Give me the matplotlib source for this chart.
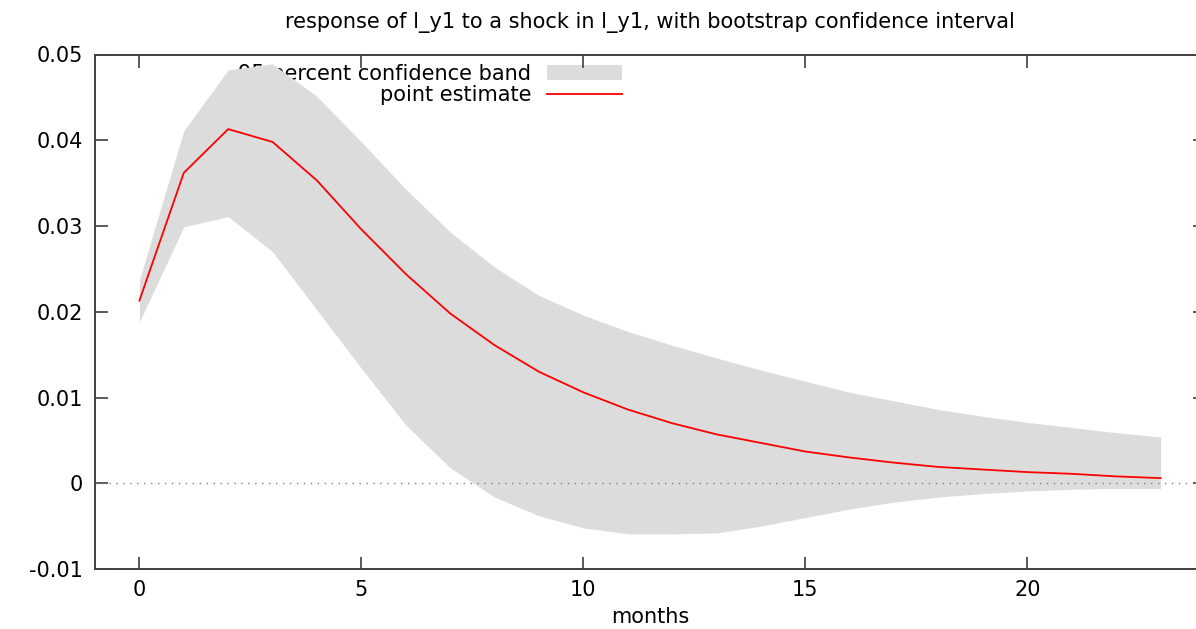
import matplotlib
matplotlib.use('Agg')
import matplotlib.pyplot as plt

# impulse response
months = list(range(24))
point_est = [0.0213, 0.0362, 0.0413, 0.0398, 0.0353, 0.0296, 0.0244, 0.0198,
             0.0161, 0.0130, 0.0106, 0.0086, 0.0070, 0.0057, 0.0047, 0.0037,
             0.0030, 0.0024, 0.0019, 0.0016, 0.0013, 0.0011, 0.0008, 0.0006]
band_hi = [0.0237, 0.0411, 0.0482, 0.0489, 0.0451, 0.0398, 0.0343, 0.0293,
           0.0252, 0.0219, 0.0196, 0.0177, 0.0161, 0.0146, 0.0132, 0.0119,
           0.0106, 0.0096, 0.0086, 0.0078, 0.0071, 0.0065, 0.0059, 0.0054]
band_lo = [0.0188, 0.0299, 0.0311, 0.0270, 0.0202, 0.0134, 0.0068, 0.0018,
           -0.0016, -0.0038, -0.0052, -0.0059, -0.0059, -0.0058, -0.0050, -0.0040,
           -0.0030, -0.0022, -0.0016, -0.0012, -0.0009, -0.0007, -0.0006, -0.0006]
xticks = [0, 5, 10, 15, 20]
yticks = [-0.01, 0, 0.01, 0.02, 0.03, 0.04, 0.05]
ytick_labels = ['-0.01', '0', '0.01', '0.02', '0.03', '0.04', '0.05']

plt.rcParams['font.family'] = ['DejaVu Sans']
fs = 15

fig = plt.figure(figsize=(11.96, 6.29), dpi=100)
# axes run past the right edge, the reference is cropped there
ax = fig.add_axes([95 / 1196, 60 / 629, 1110 / 1196, 514.5 / 629])

ax.fill_between(months, band_lo, band_hi, color='#dcdcdc', lw=0, zorder=2,
                label='95 percent confidence band')
ax.plot(months, point_est, color='#ff0000', lw=1.3, zorder=3, label='point estimate')
ax.axhline(0, color='#808080', lw=1, ls=(0, (1, 4)), zorder=2.5)

ax.set_xlim(-1, 24)
ax.set_ylim(-0.01, 0.05)
ax.set_xticks(xticks)
ax.set_yticks(yticks)
ax.set_yticklabels(ytick_labels)
ax.tick_params(direction='in', length=9, width=1.2, color='#404040',
               top=True, right=True, labelsize=fs)
ax.tick_params(axis='y', pad=9)
ax.tick_params(axis='x', pad=8)
for s in ax.spines.values():
    s.set_color('#404040')
    s.set_linewidth(1.4)

ax.set_title('response of l_y1 to a shock in l_y1, with bootstrap confidence interval',
             fontsize=fs, pad=19)
ax.set_xlabel('months', fontsize=fs, labelpad=5)

leg = ax.legend(loc='upper right', bbox_to_anchor=(0.483, 1.0), frameon=False,
                markerfirst=False, fontsize=fs, handlelength=3.6, handletextpad=0.75,
                labelspacing=0.05, borderaxespad=0.05)
leg.set_zorder(1)

fig.savefig('out.png', dpi=100)
